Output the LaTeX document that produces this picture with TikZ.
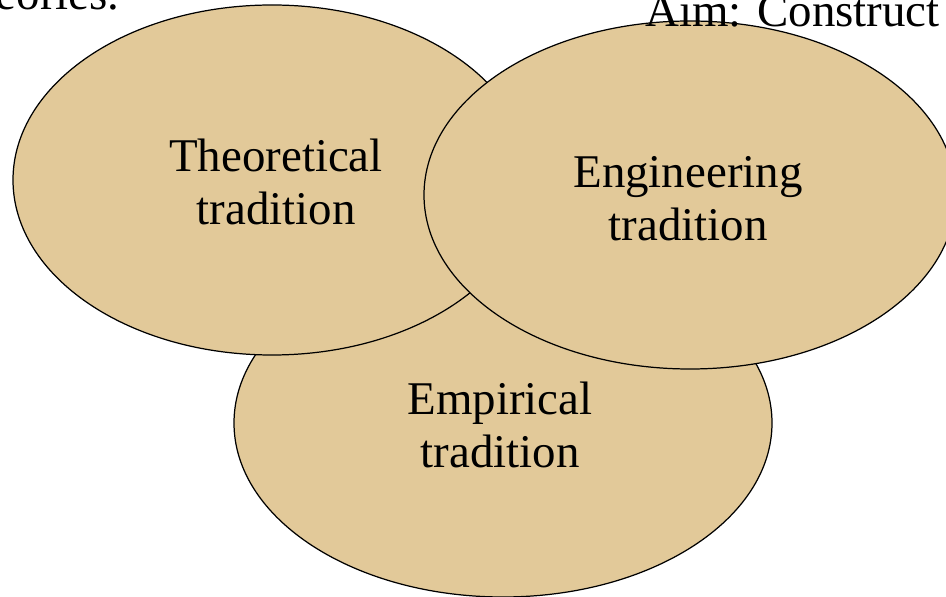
\documentclass[tikz,border=0pt]{standalone}
\usepackage{fontspec}
\setmainfont{Liberation Serif}
\definecolor{tan1}{RGB}{226,201,153}
\def\lw{0.7pt}

\begin{document}
\begin{tikzpicture}[x=0.02cm, y=-0.02cm,
				tradition/.style={draw=black,line width=\lw,fill=tan1},
				label/.style={font=\fontsize{26.7}{30}\selectfont,align=center,inner sep=0pt}]

	\useasboundingbox (0,0) rectangle (946,597);
	\clip (0,0) rectangle (946,597);

	% Traditions
	\draw[tradition] (503,423) ellipse (269 and 174);
	\draw[tradition] (272,180) ellipse (259 and 175);
	\draw[tradition] (690,195) ellipse (266 and 174);

	% Labels
	\node[label] (theory) at (276,182) {Theoretical\\tradition};
	\node[label] (engineering) at (688,199) {Engineering\\tradition};
	\node[label] (empirical) at (500,425) {Empirical\\tradition};

	% Aims (cut off)
	\node[label,anchor=base east] (aimtheory) at (120,10) {eories.};
	\node[label,anchor=base west] (aimengineering) at (645,27) {Aim: Construct};

\end{tikzpicture}
\end{document}
